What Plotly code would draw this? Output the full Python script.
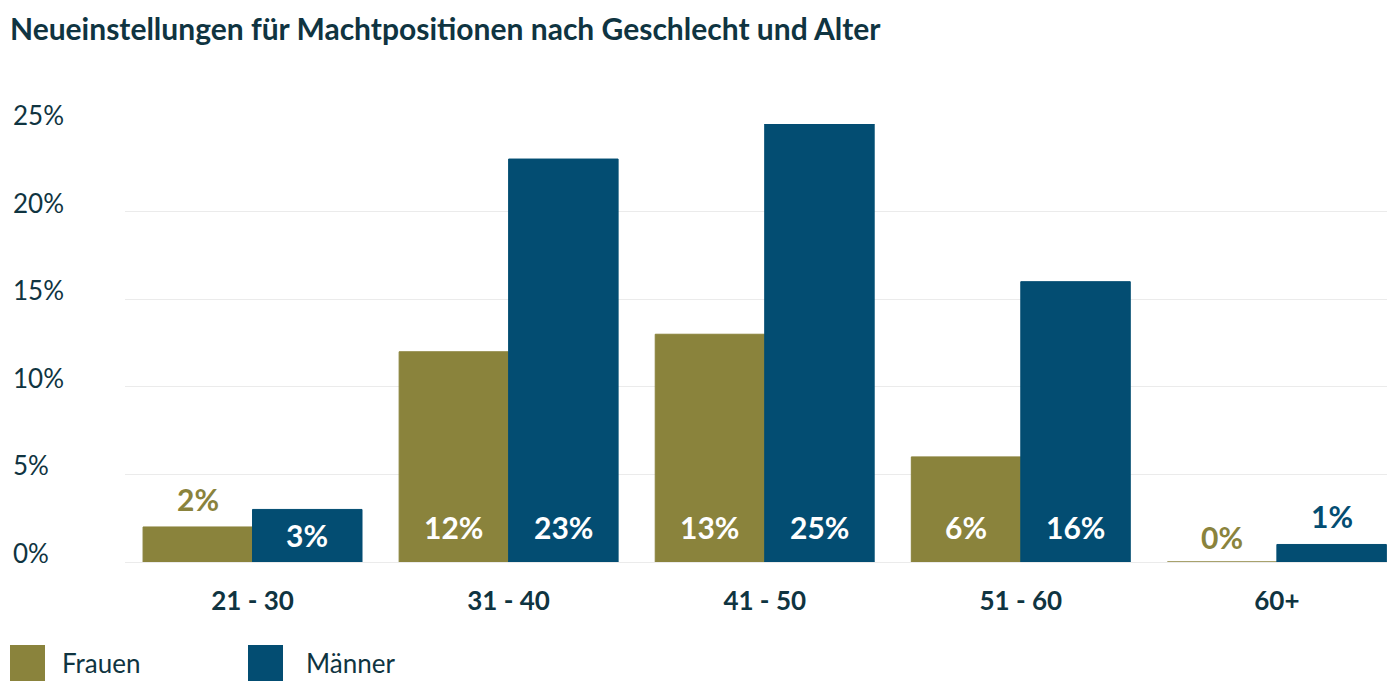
import plotly.graph_objects as go

# ---- data ----
categories = ["21 - 30", "31 - 40", "41 - 50", "51 - 60", "60+"]
frauen = [2, 12, 13, 6, 0]
maenner = [3, 23, 25, 16, 1]
series_names = ["Frauen", "Männer"]
y_ticks = [0, 5, 10, 15, 20, 25]
title_text = "Neueinstellungen für Machtpositionen nach Geschlecht und Alter"

# ---- style ----
C_F = "#8a833c"
C_M = "#034d72"
C_TXT = "#0f3441"
FONT = "Lato"
W, H = 1400, 698
ML, MR, MT, MB = 125, 13, 124, 136
BARGAP = 0.145
XRANGE = [-0.498, 4.43]

fig = go.Figure()
for name, vals, col in [(series_names[0], frauen, C_F), (series_names[1], maenner, C_M)]:
    fig.add_trace(go.Bar(
        x=categories, y=vals, name=name,
        marker=dict(color=col, line=dict(color=col, width=1)),
        showlegend=False, hoverinfo="skip",
    ))

annotations = []
# value labels
half = (1 - BARGAP) / 4
for vals, col, dx in [(frauen, C_F, -half), (maenner, C_M, half)]:
    for i, v in enumerate(vals):
        if v >= 3:
            annotations.append(dict(
                x=i + dx, y=0, xref="x", yref="y", text=f"<b>{v}%</b>",
                showarrow=False, yanchor="bottom", yshift=(15 if v >= 5 else 7),
                font=dict(family=FONT, size=30, color="white")))
        else:
            annotations.append(dict(
                x=i + dx, y=v, xref="x", yref="y", text=f"<b>{v}%</b>",
                showarrow=False, yanchor="bottom", yshift=(8 if v > 0 else 5),
                font=dict(family=FONT, size=30, color=col)))

# y tick labels (left aligned)
pw = W - ML - MR
for t in y_ticks:
    annotations.append(dict(
        x=(11 - ML) / pw, xref="paper", y=t, yref="y", text=f"{t}%",
        showarrow=False, xanchor="left", yanchor="middle", yshift=9,
        font=dict(family=FONT, size=26, color=C_TXT)))

# legend (manual)
ph = H - MT - MB
shapes = []
for name, col, x0, xt in [(series_names[0], C_F, 10, 60), (series_names[1], C_M, 248, 304)]:
    shapes.append(dict(type="rect", xref="paper", yref="paper",
                       x0=(x0 - ML) / pw, x1=(x0 + 35 - ML) / pw,
                       y0=(MT + ph - 645) / ph, y1=(MT + ph - 681) / ph,
                       fillcolor=col, line=dict(width=0)))
    annotations.append(dict(
        x=(xt - ML) / pw, xref="paper", y=(MT + ph - 663) / ph, yref="paper",
        text=name, showarrow=False, xanchor="left", yanchor="middle",
        font=dict(family=FONT, size=26, color=C_TXT)))

fig.update_layout(
    width=W, height=H,
    margin=dict(l=ML, r=MR, t=MT, b=MB),
    barmode="group", bargap=BARGAP, bargroupgap=0,
    plot_bgcolor="white", paper_bgcolor="white",
    title=dict(text=f"<b>{title_text}</b>", xref="container", yref="container",
               x=10 / W, xanchor="left", y=1 - 29 / H, yanchor="middle",
               font=dict(family=FONT, size=30, color=C_TXT)),
    xaxis=dict(range=XRANGE, showgrid=False, zeroline=False, showline=False,
               ticks="", tickfont=dict(family=FONT, size=26, color=C_TXT),
               ticklabelstandoff=21, fixedrange=True),
    yaxis=dict(range=[0, 25], tickvals=y_ticks, showticklabels=False,
               showgrid=True, gridcolor="#ebebeb", gridwidth=1,
               zeroline=True, zerolinecolor="#ebebeb", zerolinewidth=1,
               showline=False, fixedrange=True),
    annotations=annotations, shapes=shapes,
)
fig.update_xaxes(tickprefix="<b>", ticksuffix="</b>")

fig.write_html("out.html")
